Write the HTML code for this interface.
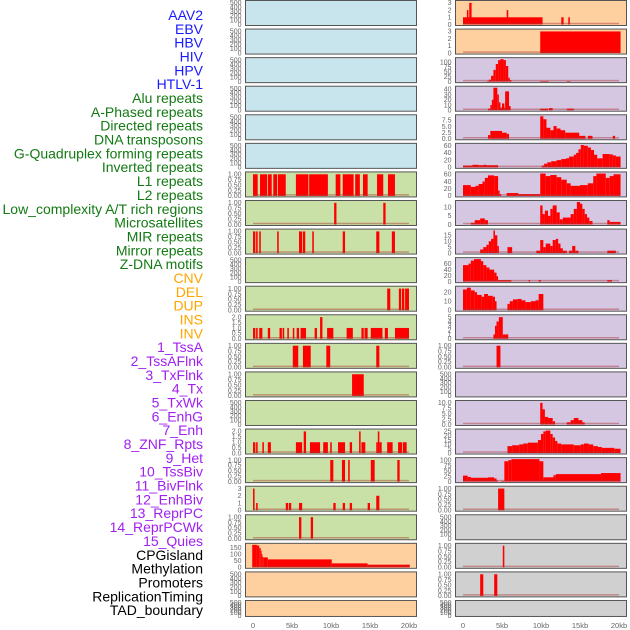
<!DOCTYPE html>
<html><head><meta charset="utf-8"><style>
html,body{margin:0;padding:0;background:#fff;}
svg{display:block;font-family:"Liberation Sans",sans-serif;}
</style></head><body>
<svg id="chart" width="630" height="630" viewBox="0 0 630 630"></svg>
<script>
const labels = ["AAV2","EBV","HBV","HIV","HPV","HTLV-1","Alu repeats","A-Phased repeats","Directed repeats","DNA transposons","G-Quadruplex forming repeats","Inverted repeats","L1 repeats","L2 repeats","Low_complexity A/T rich regions","Microsatellites","MIR repeats","Mirror repeats","Z-DNA motifs","CNV","DEL","DUP","INS","INV","1_TssA","2_TssAFlnk","3_TxFlnk","4_Tx","5_TxWk","6_EnhG","7_Enh","8_ZNF_Rpts","9_Het","10_TssBiv","11_BivFlnk","12_EnhBiv","13_ReprPC","14_ReprPCWk","15_Quies","CPGisland","Methylation","Promoters","ReplicationTiming","TAD_boundary"];
const labelGroups = [6,13,5,15,5];
const groupColors = ["#1a1aff","#137a13","#ffa500","#a020f0","#000000"];
const xTicks = [0,5,10,15,20];
const xTickLabels = ["0","5kb","10kb","15kb","20kb"];
const E = [0,100,200,300,400,500];
const U = [0,0.25,0.5,0.75,1];
const leftBg = ["b","b","b","b","b","b","g","g","g","g","g","g","g","g","g","g","g","g","g","o","o","o"];
const rightBg = ["o","o","p","p","p","p","p","p","p","p","p","p","p","p","p","p","p","y","y","y","y","y"];
const leftTicks = [E,E,E,E,E,E,U,U,U,E,U,[0,0.5,1,1.5,2],U,U,E,[0,0.5,1,1.5,2],U,[0,1,2,3],U,[0,50,100,150],E,E];
const rightTicks = [[0,1,2,3],[0,1,2,3],[0,25,50,75,100],[0,10,20,30,40],[0,2.5,5,7.5],[0,20,40,60],[0,20,40,60],[0,5,10],[0,5,10,15],[0,20,40,60],[0,10,20],[0,1,2,3,4,5],U,E,[0,2.5,5,7.5,10],[0,5,10,15,20,25],[0,25,50,75,100],U,E,U,U,E];
const leftSegs = [[],[],[],[],[],[],
[[0,0.6,1],[0.9,1.8,1],[1.9,2.4,1],[2.6,3.1,1],[3.2,4.2,1],[5.5,7.1,1],[7.2,9.6,1],[10.6,11.2,1],[11.5,12.9,1],[13.1,13.7,1],[14.1,14.7,1],[15.9,16.7,1],[17.3,18.2,1]],
[[10.4,10.7,1],[16.7,17.0,1]],
[[0,0.3,1],[0.4,0.6,1],[0.8,1.0,1],[3.1,3.3,1],[5.9,6.3,1],[6.4,6.7,1],[7.6,7.8,1],[11.5,11.8,1],[15.8,16.2,1],[17.8,18.2,1]],
[],
[[17.2,17.6,1],[18.7,19.0,1],[19.1,19.4,1],[19.5,20,1]],
[[0,0.3,1],[0.4,0.6,1],[0.8,1.2,1],[1.9,2.2,1],[3.4,3.7,1],[3.8,4.0,1],[4.4,4.6,1],[5.1,5.3,1],[5.6,5.9,1],[6.1,6.8,1],[7.9,8.2,1],[8.6,8.9,2],[9.5,10.3,1],[12.0,12.8,1],[13.9,14.2,1],[14.3,14.7,1],[15.1,16.6,1],[16.9,17.3,1],[18.2,20,1]],
[[5.1,5.8,1],[6.4,7.4,1],[9.4,9.9,1],[15.8,16.2,1]],
[[12.7,14.2,1]],
[],
[[0,0.3,1],[0.4,0.6,1],[1.2,1.4,1],[1.9,2.3,1],[5.5,6.3,1],[6.5,6.8,2],[7.3,8.6,1],[9.0,9.6,1],[9.9,10.1,1],[10.9,11.8,1],[12.4,12.7,1],[13.6,13.8,2],[13.9,14.4,1],[15.8,16.0,1],[16.0,16.2,2],[16.2,16.5,1],[17.2,17.9,1],[18.6,19.1,1],[19.2,19.7,1]],
[[9.9,10.3,1],[11.4,11.8,1],[12.2,12.4,1],[15.1,15.6,1],[18.5,18.8,1]],
[[0,0.2,3],[0.4,0.6,1],[4.2,4.5,1],[4.6,4.9,1],[5.9,6.3,1],[10.3,10.6,1],[11.5,11.8,1],[12.4,12.7,1],[14.7,15.0,1],[15.8,16.2,2]],
[[5.9,6.2,1],[7.4,7.7,1]],
[[-0.1,0.5,170],[0.5,0.8,165],[0.8,1.0,145],[1.0,1.1,125],[1.1,1.2,100],[1.2,1.3,80],[1.3,1.9,75],[1.9,10.1,60],[10.1,14.7,30],[14.7,20.1,20]],
[],[]];
const rightSegs = [
[[0,10.2,1],[0.5,0.7,2],[0.8,1.1,3],[5.6,5.8,2],[12.6,12.9,1],[13.5,13.7,1]],
[[9.9,20.2,3]],
[[3.1,3.3,3],[3.3,3.6,10],[3.6,3.9,30],[3.9,4.2,60],[4.2,4.5,90],[4.5,4.8,110],[4.8,5.2,115],[5.2,5.5,110],[5.5,5.8,80],[5.8,6.0,20],[6.0,6.2,8],[9.9,11.0,3],[13.3,13.8,3]],
[[3.2,3.5,3],[3.5,3.7,10],[3.7,3.9,20],[3.9,4.4,43],[4.4,4.6,30],[4.6,4.8,15],[4.8,5.0,5],[5.0,5.3,13],[5.3,5.4,5],[5.4,5.9,36],[5.9,6.1,8],[9.9,10.9,3],[11.0,11.5,4],[13.3,14.2,3]],
[[3.2,3.5,1.5],[3.5,5.0,3.2],[5.0,5.6,2.5],[5.6,5.9,2],[9.9,10.3,9.2],[10.3,10.7,8],[10.7,11.2,4.5],[11.2,11.6,3.5],[11.6,12.0,5.2],[12.0,12.5,4.2],[12.5,13.1,3.5],[13.1,14.9,2.5],[14.9,15.7,1.2],[16.0,16.6,1.2],[19.2,19.5,1.2]],
[[0,1.2,5],[1.2,2.0,7],[2.0,2.6,6],[2.6,3.0,7],[3.0,4.5,6],[10.1,10.4,5],[10.4,10.8,10],[10.8,11.3,14],[11.3,12,17],[12,12.6,20],[12.6,13.2,23],[13.2,13.6,25],[13.6,14.2,30],[14.2,14.5,35],[14.5,14.8,40],[14.8,15.1,50],[15.1,15.5,62],[15.5,16,60],[16,16.4,55],[16.4,16.8,48],[16.8,17.2,35],[17.2,17.9,25],[17.9,18.8,37],[18.8,19.2,36],[19.2,19.6,33],[19.6,20.2,30]],
[[0,1,30],[1,1.6,25],[1.6,2,28],[2,2.5,33],[2.5,2.8,40],[2.8,3.2,50],[3.2,4.0,57],[4.0,4.5,55],[4.5,4.7,15],[4.7,4.9,5],[5.6,7.1,8],[7.1,9.9,5],[9.9,10.6,62],[10.6,11.2,55],[11.2,12.0,58],[12,12.6,52],[12.6,13.3,45],[13.3,13.8,35],[13.8,15,28],[15,16,30],[16,16.7,35],[16.7,17.1,55],[17.1,18.3,62],[18.3,18.8,50],[18.8,19.3,55],[19.3,20.2,60]],
[[1.0,1.5,1],[1.5,2.2,2.5],[2.2,2.8,3.5],[2.8,3.2,2.5],[9.9,10.2,11],[10.2,10.5,6],[10.5,10.9,8],[10.9,11.2,5],[11.2,11.5,9],[11.5,12.0,11],[12,12.4,7],[12.4,12.8,3],[12.8,13.8,4],[13.8,14.2,6],[14.2,14.6,9],[14.6,15,13],[15,15.3,12],[15.3,15.6,9],[15.6,15.9,6],[15.9,16.2,4],[16.2,16.6,2],[18.5,18.8,2.5],[18.8,20.2,1.5]],
[[2.2,2.6,3],[2.6,3,5],[3,3.3,7],[3.3,3.6,10],[3.6,3.9,12],[3.9,4.1,19],[4.1,4.4,15],[4.4,4.6,6],[5.7,6.3,5],[9.4,9.9,2],[9.9,10.3,11],[10.3,10.6,5],[10.6,11.2,8],[11.2,11.5,6],[11.5,11.9,11],[11.9,12.2,12],[12.2,12.5,8],[12.5,12.8,4],[12.8,13.3,2],[13.6,14.0,2],[14.0,14.4,6],[14.4,14.8,2],[18.5,19.6,2]],
[[0,0.7,55],[0.7,1.0,60],[1.0,1.4,70],[1.4,2.3,75],[2.3,2.6,68],[2.6,3,55],[3,3.4,47],[3.4,4.0,40],[4.0,4.3,30],[4.3,4.5,18],[4.5,6.2,5],[8.4,8.6,5],[9.7,10,5],[18.5,19.1,5]],
[[0,0.5,23],[0.5,1.0,25],[1.0,1.5,22],[1.5,1.8,20],[1.8,2.4,17],[2.4,2.7,15],[2.7,3.2,18],[3.2,3.8,16],[3.8,4.1,15],[4.1,4.3,10],[5.7,6.0,7],[6.0,6.4,10],[6.4,7.0,12],[7.0,7.5,12.5],[7.5,8.0,11],[8.0,8.7,9],[8.7,9.3,10],[9.3,9.7,11],[9.7,10.3,18]],
[[3.9,4.1,1],[4.1,4.3,3],[4.3,4.6,4],[4.6,5.1,5],[5.1,5.8,1]],
[[4.3,4.8,1]],
[],
[[9.9,10.2,10],[10.2,10.5,7],[10.5,10.9,3.5],[10.9,11.5,3],[11.5,11.8,1.5],[13.3,13.8,1],[13.8,14.2,2],[14.2,14.8,3],[14.8,15.3,2],[15.3,15.6,1]],
[[5.7,6.3,8],[6.3,7.2,9],[7.2,7.7,10],[7.7,8.3,11],[8.3,9.6,12],[9.6,10.0,15],[10.0,10.3,22],[10.3,10.6,25],[10.6,11.2,26],[11.2,11.5,22],[11.5,11.8,18],[11.8,12.1,14],[12.1,12.6,11],[12.6,14.2,10],[14.2,15.1,9],[15.1,15.5,10],[15.5,16.1,11],[16.1,16.7,10],[16.7,17.3,8],[17.3,17.8,7],[17.8,19.4,6],[19.4,20.2,5]],
[[0,0.6,28],[0.6,1.0,22],[1.0,3.2,18],[3.2,4.0,20],[4.0,4.3,15],[4.3,4.5,5],[4.9,5.3,3],[5.3,5.8,95],[5.8,6.2,100],[6.2,9.8,105],[9.8,10.3,95],[10.3,11.6,20],[11.6,11.9,30],[11.9,17.7,35],[17.7,20.2,40]],
[[4.5,5.3,1]],
[],
[[5.1,5.3,1]],
[[2.2,2.6,1],[4.0,4.4,1]],
[]];

const NS = "http://www.w3.org/2000/svg";
const svg = document.getElementById("chart");
function mk(tag, attrs, parent){const e=document.createElementNS(NS,tag);for(const k in attrs)e.setAttribute(k,attrs[k]);(parent||svg).appendChild(e);return e;}
const bgColors = {b:"#c8e4ec",g:"#c9e1a6",o:"#fed0a0",p:"#d5c6e2",y:"#d0d0d0"};
const pitch = 28.57;
function rowTop(i){return i*pitch;}
function rowH(i){return i===21?16:25;}
function fmt(v, tk){
  const last=tk[tk.length-1];
  if(last<=1) return v.toFixed(2);
  if(tk.some(t=>t%1!==0)) return v.toFixed(1);
  return String(v);
}

let li=0;
labelGroups.forEach((n,g)=>{for(let k=0;k<n;k++){const t=mk("text",{x:203,y:20+li*13.84,"text-anchor":"end","font-size":"14",fill:groupColors[g]});t.textContent=labels[li];


li++;}});

function drawCol(colX, zeroX, bgs, ticks, segs, side){
  for(let i=0;i<bgs.length;i++){
    const top=rowTop(i), h=rowH(i);
    const g=mk("g",{});
    
    
    mk("rect",{x:colX,y:top+0.5,width:171,height:h,fill:bgColors[bgs[i]],stroke:"#555","stroke-width":1},g);
    const tk=ticks[i], sg=segs[i];
    let mx=tk[tk.length-1]; sg.forEach(s=>{if(s[2]>mx)mx=s[2];});
    const dom = Math.max(tk[tk.length-1]*1.04, mx);
    const y0=top+h-0.5, span=h-2.5;
    const ys=v=>y0-v/dom*span;
    const xs=kb=>zeroX+kb*7.8;
    tk.forEach(v=>{const t=mk("text",{x:colX-4,y:ys(v)+2.3,"text-anchor":"end","font-size":"7",fill:"#666"},g);t.textContent=fmt(v,tk);
      
      });
    sg.forEach(s=>{const r=mk("rect",{x:xs(s[0]),y:ys(s[2]),width:Math.max(0.8,xs(s[1])-xs(s[0])),height:y0-ys(s[2]),fill:"#ff0000"},g);
      
      });
    if(sg.length){mk("line",{x1:xs(0),x2:xs(20),y1:y0-1,y2:y0-1,stroke:"rgba(170,50,50,0.45)","stroke-width":1.5},g);}
  }
  xTicks.forEach((v,k)=>{const t=mk("text",{x:zeroX+v*7.8,y:628,"text-anchor":"middle","font-size":"7.5",fill:"#666"});t.textContent=xTickLabels[k];
    
    });
}
drawCol(245.5,253,leftBg,leftTicks,leftSegs,"left");
drawCol(455.5,463,rightBg,rightTicks,rightSegs,"right");
</script>
</body></html>
